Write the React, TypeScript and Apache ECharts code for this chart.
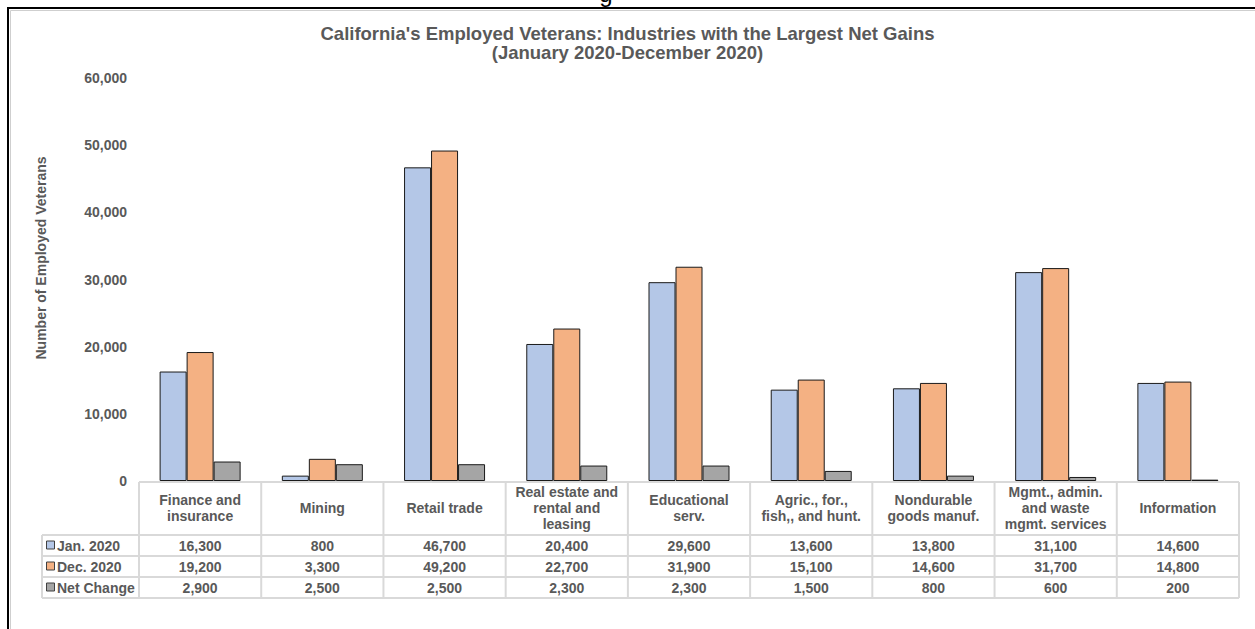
import React, { useEffect, useRef } from "react";
import * as echarts from "echarts";

const categories = [
  "Finance and\ninsurance",
  "Mining",
  "Retail trade",
  "Real estate and\nrental and\nleasing",
  "Educational\nserv.",
  "Agric., for.,\nfish,, and hunt.",
  "Nondurable\ngoods manuf.",
  "Mgmt., admin.\nand waste\nmgmt. services",
  "Information",
];
const seriesNames = ["Jan. 2020", "Dec. 2020", "Net Change"];
const jan2020 = [16300, 800, 46700, 20400, 29600, 13600, 13800, 31100, 14600];
const dec2020 = [19200, 3300, 49200, 22700, 31900, 15100, 14600, 31700, 14800];
const netChange = [2900, 2500, 2500, 2300, 2300, 1500, 800, 600, 200];
const colors = ["#b4c7e7", "#f4b183", "#a5a5a5"];
const yTicks = { min: 0, max: 60000, interval: 10000 };

const W = 1255;
const H = 629;
const GRID_L = 139;
const GRID_R = 1239;
const GRID_T = 78;
const GRID_B = 481;
const TXT = "#595959";
const LINE = "#d9d9d9";
const FONT = "Arial, 'Liberation Sans', sans-serif";

function fmt(v: number) {
  return v.toLocaleString("en-US");
}

export default function App() {
  const ref = useRef<HTMLDivElement>(null);
  useEffect(() => {
    if (!ref.current) return;
    const chart = echarts.init(ref.current, undefined, { renderer: "svg" });
    const allSeries = [jan2020, dec2020, netChange];
    const colW = (GRID_R - GRID_L) / categories.length;
    const headerTop = 482;
    const rowTops = [535, 556, 577, 598];
    const leftCol = 42;

    const graphics: any[] = [];
    graphics.push({
      type: "rect",
      shape: { x: 8, y: 8, width: 1400, height: 800 },
      style: { fill: "none", stroke: "#000", lineWidth: 2 },
      silent: true,
    });
    graphics.push({
      type: "rect",
      shape: { x: 10.5, y: 10.5, width: 1400, height: 800 },
      style: { fill: "none", stroke: "#cfcfcf", lineWidth: 1 },
      silent: true,
    });
    graphics.push({
      type: "text",
      x: 606,
      y: 5,
      style: { text: "g", font: "24px " + FONT, fill: "#000", align: "center", verticalAlign: "bottom" },
      silent: true,
    });
    graphics.push({
      type: "line",
      shape: { x1: GRID_L, y1: headerTop, x2: GRID_R, y2: headerTop },
      style: { stroke: LINE, lineWidth: 2 },
    });
    rowTops.forEach((y) => {
      graphics.push({
        type: "line",
        shape: { x1: leftCol, y1: y, x2: GRID_R, y2: y },
        style: { stroke: LINE, lineWidth: 2 },
      });
    });
    graphics.push({
      type: "line",
      shape: { x1: leftCol, y1: rowTops[0], x2: leftCol, y2: rowTops[3] },
      style: { stroke: LINE, lineWidth: 2 },
    });
    for (let k = 0; k <= categories.length; k++) {
      const x = GRID_L + k * colW;
      graphics.push({
        type: "line",
        shape: { x1: x, y1: headerTop, x2: x, y2: rowTops[3] },
        style: { stroke: LINE, lineWidth: 2 },
      });
    }
    allSeries.forEach((vals, r) => {
      const cy = (rowTops[r] + rowTops[r + 1]) / 2;
      graphics.push({
        type: "rect",
        shape: { x: 46.5, y: cy - 4.5, width: 8, height: 8 },
        style: { fill: colors[r], stroke: "#404040", lineWidth: 1 },
      });
      graphics.push({
        type: "text",
        x: 57,
        y: cy,
        style: { text: seriesNames[r], font: "bold 14px " + FONT, fill: TXT, align: "left", verticalAlign: "middle" },
      });
      vals.forEach((v, i) => {
        graphics.push({
          type: "text",
          x: GRID_L + (i + 0.5) * colW,
          y: cy,
          style: { text: fmt(v), font: "bold 14px " + FONT, fill: TXT, align: "center", verticalAlign: "middle" },
        });
      });
    });

    chart.setOption({
      animation: false,
      title: {
        text: "California's Employed Veterans: Industries with the Largest Net Gains\n(January 2020-December 2020)",
        left: "center",
        top: 19,
        textStyle: { fontFamily: FONT, fontSize: 18.5, fontWeight: "bold", color: TXT, lineHeight: 19, align: "center" },
      },
      grid: { left: GRID_L, right: W - GRID_R, top: GRID_T, bottom: H - GRID_B, containLabel: false },
      xAxis: {
        type: "category",
        data: categories,
        axisLine: { show: false },
        axisTick: { show: false },
        axisLabel: {
          interval: 0,
          margin: 27,
          verticalAlign: "middle",
          fontFamily: FONT,
          fontSize: 14,
          fontWeight: "bold",
          color: TXT,
          lineHeight: 16,
        },
      },
      yAxis: {
        type: "value",
        min: yTicks.min,
        max: yTicks.max,
        interval: yTicks.interval,
        splitLine: { show: false },
        axisLine: { show: false },
        axisTick: { show: false },
        axisLabel: {
          margin: 12,
          fontFamily: FONT,
          fontSize: 14,
          fontWeight: "bold",
          color: TXT,
          formatter: (v: number) => fmt(v),
        },
        name: "Number of Employed Veterans",
        nameLocation: "middle",
        nameGap: 91,
        nameRotate: 90,
        nameTextStyle: { fontFamily: FONT, fontSize: 14, fontWeight: "bold", color: TXT, padding: [0, 0, 0, 43] },
      },
      series: allSeries.map((vals, r) => ({
        name: seriesNames[r],
        type: "bar",
        data: vals,
        barWidth: 27,
        barGap: "0%",
        itemStyle: { color: colors[r], borderColor: "#1a1a1a", borderWidth: 1 },
      })),
      graphic: graphics,
    });
    return () => chart.dispose();
  }, []);
  return <div ref={ref} style={{ position: "fixed", left: 0, top: 0, width: W, height: H, background: "#fff" }} />;
}
